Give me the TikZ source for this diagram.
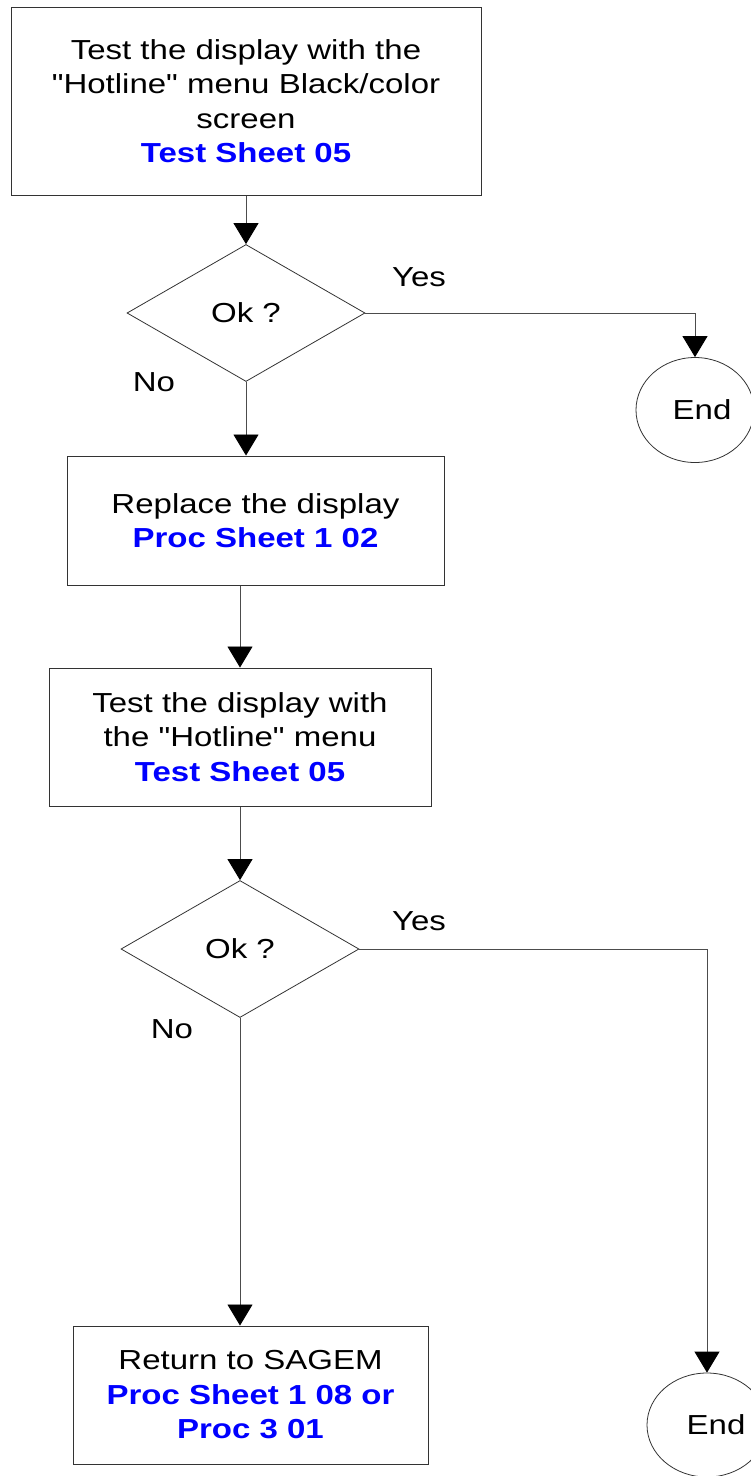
\documentclass[tikz,border=0pt]{standalone}
\usepackage{fontspec}
\setmainfont{Liberation Sans}[FakeStretch=1.2, Ligatures=TeXOff]
\usetikzlibrary{shapes.geometric,arrows.meta}
\definecolor{linkblue}{RGB}{0,0,255}
\newcommand{\lk}[1]{{\bfseries\color{linkblue}#1}}
\tikzset{
  basefont/.style={font=\fontsize{27.5}{34.5}\selectfont},
  procbox/.style={basefont, draw=black!80, line width=1pt, rectangle, align=center, inner sep=0pt},
  decision/.style={basefont, draw=black!80, line width=0.8pt, diamond, inner sep=0pt},
  endnode/.style={basefont, draw=black!80, line width=0.8pt, ellipse, inner sep=0pt},
  lbl/.style={basefont, inner sep=0pt},
  flow/.style={draw=black!70, line width=0.9pt, -{Triangle[length=21pt,width=25pt,color=black]}},
}
\begin{document}
\begin{tikzpicture}[x=1pt,y=-1pt]
\useasboundingbox (0,0) rectangle (751,1476);
\node[procbox, minimum width=470pt, minimum height=188pt] (b1) at (246,101)
  {Test the display with the\\"Hotline" menu Black/color\\screen\\\lk{Test Sheet 05}};
\node[decision, minimum width=238pt, minimum height=137pt] (d1) at (246,313) {Ok ?};
\node[endnode, minimum width=118pt, minimum height=105pt] (e1) at (695,410) {\hspace*{14pt}End};
\node[lbl] (y1) at (419,277) {Yes};
\node[lbl] (n1) at (154,382) {No};
\node[procbox, minimum width=377pt, minimum height=129pt] (b2) at (255.5,520.5)
  {Replace the display\\\lk{Proc Sheet 1 02}};
\node[procbox, minimum width=382pt, minimum height=138pt] (b3) at (240,737)
  {Test the display with\\the "Hotline" menu\\\lk{Test Sheet 05}};
\node[decision, minimum width=238pt, minimum height=137pt] (d2) at (240,949) {Ok ?};
\node[lbl] (y2) at (419,921) {Yes};
\node[lbl] (n2) at (172,1029) {No};
\node[procbox, minimum width=355pt, minimum height=138pt] (b4) at (250.5,1395)
  {Return to SAGEM\\\lk{Proc Sheet 1 08 or}\\\lk{Proc 3 01}};
\node[endnode, minimum width=120pt, minimum height=104pt] (e2) at (707,1425) {\hspace*{18pt}End};
\draw[flow] (b1.south) -- (d1.north);
\draw[flow] (d1.east) -| (e1.north);
\draw[flow] (d1.south) -- (d1.south |- b2.north);
\draw[flow] (b3.north |- b2.south) -- (b3.north);
\draw[flow] (b3.south) -- (d2.north);
\draw[flow] (d2.east) -| (e2.north);
\draw[flow] (d2.south) -- (d2.south |- b4.north);
\end{tikzpicture}
\end{document}
